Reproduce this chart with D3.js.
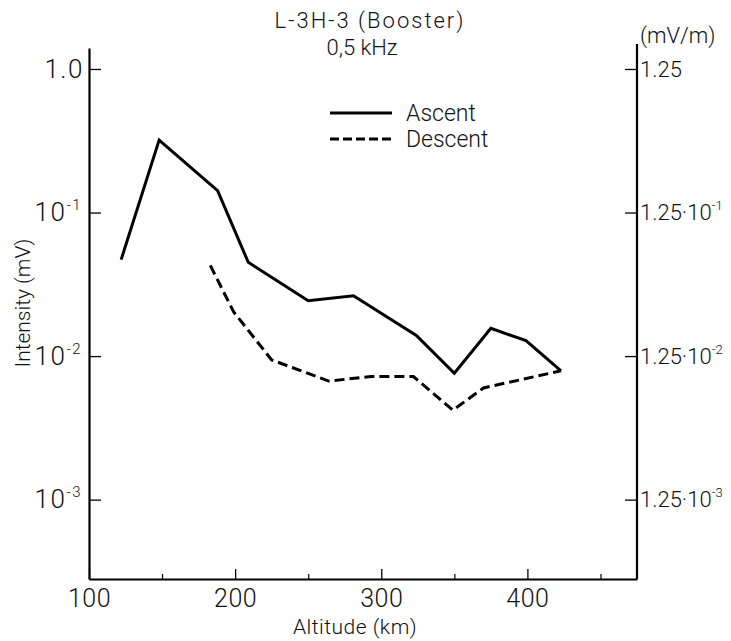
<!DOCTYPE html>
<html>
<head>
<meta charset="utf-8">
<script src="https://cdn.jsdelivr.net/npm/d3@7"></script>
<style>
body { margin: 0; background: #fff; }
text { font-family: Roboto, "Liberation Sans", sans-serif; font-weight: 300; fill: #111; }
</style>
</head>
<body>
<svg width="731" height="641"></svg>
<script>
// altitude (km) and intensity (mV)
const ascentAlt = [122, 148, 188, 209, 250, 281, 324, 350, 375, 399, 423];
const ascentVal = [0.047, 0.32, 0.142, 0.045, 0.0243, 0.0263, 0.0139, 0.0076, 0.0156, 0.0128, 0.0079];
const descentAlt = [183, 199, 225, 264, 293, 322, 349, 370, 423];
const descentVal = [0.0428, 0.0203, 0.0094, 0.0067, 0.0072, 0.0072, 0.0042, 0.0060, 0.0079];

const xMajor = [100, 200, 300, 400];
const xMinor = [150, 250, 350, 450];
const yTicks = [1, 0.1, 0.01, 0.001];
const yLabels = [["1.0", ""], ["10", "-1"], ["10", "-2"], ["10", "-3"]];
const rTicks = [1.25, 0.125, 0.0125, 0.00125];
const rLabels = [["1.25", ""], ["1.25·10", "-1"], ["1.25·10", "-2"], ["1.25·10", "-3"]];

const mLeft = 89, mRight = 637, mTop = 48, mBottom = 579;
const svg = d3.select("svg");

const x = d3.scaleLinear().domain([100, 475]).range([mLeft, mRight]);
const y = d3.scaleLog().domain([2.8e-4, 1.4]).range([mBottom, mTop]);
const yr = d3.scaleLog().domain([2.8e-4 * 1.25, 1.4 * 1.25]).range([mBottom, mTop]);

// ---------- axes ----------
const gx = svg.append("g").attr("transform", "translate(0," + mBottom + ")")
  .call(d3.axisBottom(x).tickValues(xMajor).tickSizeInner(-10).tickSizeOuter(0).tickPadding(7).tickFormat(d3.format("d")));
gx.select(".domain").attr("stroke-width", 2);
gx.selectAll(".tick line").attr("stroke-width", 1.3);
gx.selectAll(".tick text").attr("font-size", 25).attr("dy", "0.85em").attr("letter-spacing", 0.5);

const gm = svg.append("g").attr("transform", "translate(0," + mBottom + ")")
  .call(d3.axisBottom(x).tickValues(xMinor).tickSizeInner(-5).tickSizeOuter(0).tickFormat(""));
gm.select(".domain").remove();
gm.selectAll(".tick line").attr("stroke-width", 1.2);

const gy = svg.append("g").attr("transform", "translate(" + mLeft + ",0)")
  .call(d3.axisLeft(y).tickValues(yTicks).tickSizeInner(-12).tickSizeOuter(0).tickPadding(5).tickFormat(() => ""));
gy.select(".domain").attr("stroke-width", 2.2);
gy.selectAll(".tick line").attr("stroke-width", 1.3);
gy.selectAll(".tick text").attr("font-size", 26).attr("letter-spacing", 1.5).each(function(d, i) {
  const t = d3.select(this);
  t.append("tspan").text(yLabels[i][0]);
  if (yLabels[i][1]) t.append("tspan").attr("font-size", 15).attr("dy", -11).text(yLabels[i][1]);
});
gy.selectAll(".tick text").attr("dx", (d, i) => yLabels[i][1] ? -2 : 0);

const gr = svg.append("g").attr("transform", "translate(" + mRight + ",0)")
  .call(d3.axisRight(yr).tickValues(rTicks).tickSizeInner(-12).tickSizeOuter(0).tickPadding(3).tickFormat(() => ""));
gr.select(".domain").attr("stroke-width", 2.2).attr("d", "M0," + mBottom + "V" + (mTop - 4));
gr.selectAll(".tick line").attr("stroke-width", 1.3);
gr.selectAll(".tick text").attr("font-size", 22).each(function(d, i) {
  const t = d3.select(this);
  t.append("tspan").text(rLabels[i][0]);
  if (rLabels[i][1]) t.append("tspan").attr("font-size", 13).attr("dy", -10).text(rLabels[i][1]);
});

// ---------- lines ----------
const line = d3.line().x(d => x(d[0])).y(d => y(d[1]));
const plot = svg.append("g");
plot.append("path")
  .datum(d3.zip(ascentAlt, ascentVal))
  .attr("fill", "none").attr("stroke", "#000").attr("stroke-width", 3)
  .attr("stroke-linejoin", "miter").attr("d", line);
plot.append("path")
  .datum(d3.zip(descentAlt, descentVal))
  .attr("fill", "none").attr("stroke", "#000").attr("stroke-width", 3)
  .attr("stroke-dasharray", "10,5").attr("d", line);

// ---------- legend ----------
const legend = svg.append("g").attr("transform", "translate(330,113)");
legend.append("line").attr("x1", 0).attr("x2", 62).attr("y1", 0).attr("y2", 0)
  .attr("stroke", "#000").attr("stroke-width", 3);
legend.append("line").attr("x1", 0).attr("x2", 62).attr("y1", 26).attr("y2", 26)
  .attr("stroke", "#000").attr("stroke-width", 3).attr("stroke-dasharray", "9,4");
legend.append("text").attr("x", 76).attr("y", 8).attr("font-size", 23).text("Ascent");
legend.append("text").attr("x", 76).attr("y", 34).attr("font-size", 23).text("Descent");

// ---------- titles ----------
svg.append("text").attr("x", 370).attr("y", 28).attr("text-anchor", "middle")
  .attr("font-size", 22).attr("letter-spacing", 2).text("L-3H-3 (Booster)");
svg.append("text").attr("x", 362).attr("y", 55).attr("text-anchor", "middle")
  .attr("font-size", 22).text("0,5 kHz");
svg.append("text").attr("x", 640).attr("y", 43).attr("font-size", 22).text("(mV/m)");
svg.append("text").attr("x", 355).attr("y", 634).attr("text-anchor", "middle")
  .attr("font-size", 21).attr("letter-spacing", 0.5).text("Altitude (km)");
svg.append("text").attr("transform", "translate(30,303) rotate(-90)").attr("text-anchor", "middle")
  .attr("font-size", 21).text("Intensity (mV)");
</script>
</body>
</html>
